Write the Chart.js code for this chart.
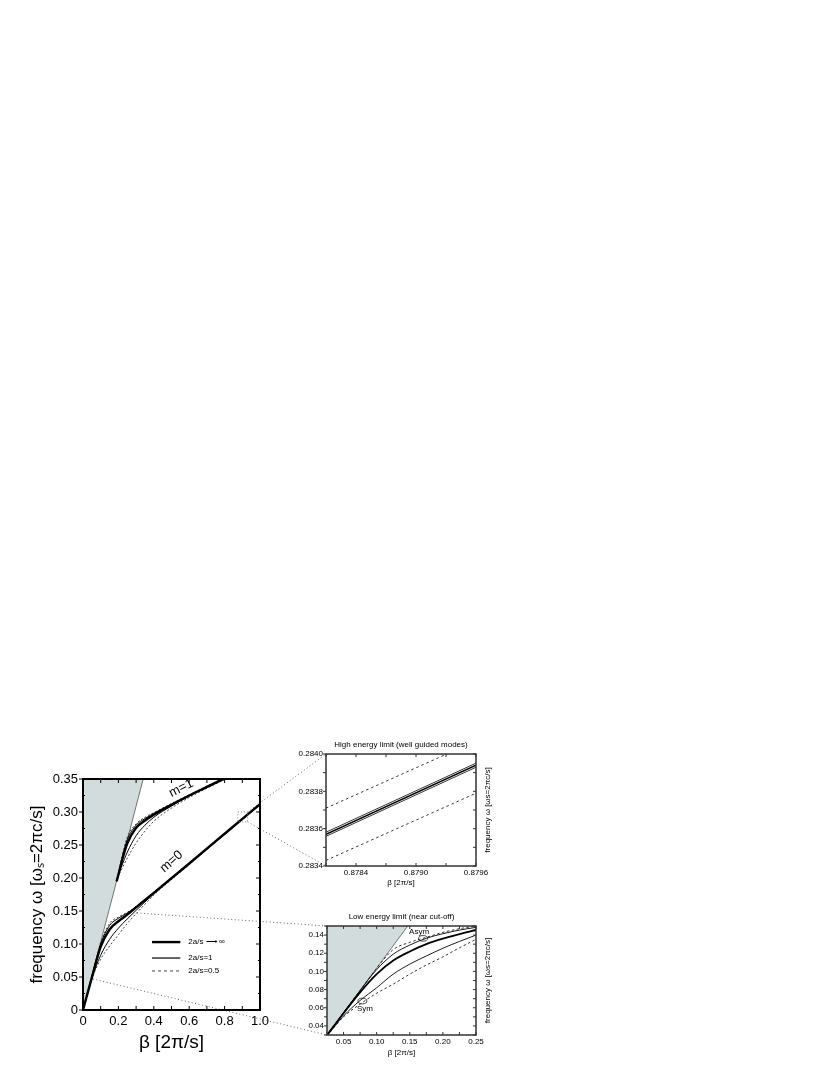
<!DOCTYPE html>
<html>
<head>
<meta charset="utf-8">
<script src="https://cdn.jsdelivr.net/npm/chart.js@4.4.0/dist/chart.umd.min.js"></script>
<style>
html, body { margin: 0; padding: 0; background: #fff; width: 830px; height: 1075px; overflow: hidden; }
canvas { position: absolute; }
</style>
</head>
<body>
<canvas id="overlay" width="830" height="1075" style="left:0;top:0"></canvas>
<canvas id="main" width="280" height="300" style="left:0;top:760px"></canvas>
<canvas id="hi" width="210" height="162" style="left:290px;top:730px"></canvas>
<canvas id="lo" width="210" height="165" style="left:290px;top:900px"></canvas>
<script>
const FONT = '"Liberation Sans", Arial, sans-serif';

// ---- main panel: dispersion, beta [2pi/s] vs omega [2pi c/s]
const lightX = [0, 0.34];
const lightY = [0, 0.35];

const betaM0 = [0, 0.05, 0.1, 0.15, 0.2, 0.25, 0.3, 0.4, 0.6, 0.8, 1.0];
const m0Inf   = [0, 0.049, 0.096, 0.122, 0.1345, 0.1445, 0.1555, 0.1775, 0.222, 0.267, 0.312];
const m0OneA  = [0, 0.050, 0.100, 0.128, 0.139, 0.147, 0.1565, 0.178, 0.2222, 0.2671, 0.3121];
const m0OneS  = [0, 0.048, 0.083, 0.107, 0.124, 0.138, 0.151, 0.176, 0.221, 0.266, 0.311];
const m0HalfA = [0, 0.050, 0.102, 0.131, 0.141, 0.148, 0.157, 0.1785, 0.2225, 0.2672, 0.3122];
const m0HalfS = [0, 0.047, 0.077, 0.097, 0.114, 0.131, 0.146, 0.174, 0.220, 0.266, 0.311];

const betaM1 = [0.19, 0.2, 0.22, 0.25, 0.3, 0.35, 0.4, 0.5, 0.6, 0.7, 0.8];
const m1Inf   = [0.195, 0.205, 0.226, 0.252, 0.276, 0.287, 0.296, 0.311, 0.325, 0.338, 0.351];
const m1OneA  = [0.195, 0.2055, 0.23, 0.258, 0.28, 0.290, 0.298, 0.312, 0.325, 0.338, 0.351];
const m1OneS  = [0.195, 0.204, 0.219, 0.239, 0.264, 0.280, 0.292, 0.309, 0.324, 0.337, 0.350];
const m1HalfA = [0.195, 0.206, 0.232, 0.262, 0.282, 0.292, 0.299, 0.313, 0.326, 0.339, 0.352];
const m1HalfS = [0.195, 0.203, 0.214, 0.230, 0.253, 0.271, 0.286, 0.306, 0.322, 0.336, 0.349];

// zoom boxes shown on the main panel
const hiBoxBeta = [0.875, 0.93];
const hiBoxOmega = [0.285, 0.30];
const loLinkBeta = [0.305, 0.056];
const loLinkOmega = [0.147, 0.047];

const legendLabels = ['2a/s \u27F6 \u221E', '2a/s=1', '2a/s=0.5'];

// ---- high energy inset
const hiBeta  = [0.8781, 0.8796];
const hiInf   = [0.28357, 0.28394];
const hiOneA  = [0.283581, 0.283951];
const hiOneS  = [0.283559, 0.283929];
const hiHalfA = [0.28371, 0.28407];
const hiHalfS = [0.28343, 0.28379];

// ---- low energy inset
const loLightX = [0.025, 0.147];
const loLightY = [0.03, 0.15];
const loBeta  = [0.025, 0.05, 0.075, 0.1, 0.125, 0.15, 0.175, 0.2, 0.225, 0.25];
const loInf   = [0.030, 0.054, 0.077, 0.097, 0.112, 0.122, 0.130, 0.136, 0.141, 0.1456];
const loOneA  = [0.030, 0.0545, 0.079, 0.102, 0.119, 0.129, 0.1365, 0.1415, 0.1455, 0.1485];
const loOneS  = [0.029, 0.051, 0.068, 0.082, 0.097, 0.108, 0.117, 0.1255, 0.133, 0.140];
const loHalfA = [0.030, 0.0546, 0.079, 0.1035, 0.124, 0.132, 0.1375, 0.143, 0.147, 0.150];
const loHalfS = [0.029, 0.050, 0.064, 0.076, 0.086, 0.097, 0.107, 0.116, 0.126, 0.1353];
const asymMark = [0.170, 0.1364];
const symMark = [0.0784, 0.0674];

const xy = (xs, ys) => xs.map((x, i) => ({ x, y: ys[i] }));

function curve(xs, ys, w, dash, color, tension) {
    return {
        data: xy(xs, ys),
        borderColor: color || '#000',
        borderWidth: w,
        borderDash: dash || [],
        pointRadius: 0,
        fill: false,
        tension: tension === undefined ? 0.4 : tension,
        cubicInterpolationMode: 'monotone',
    };
}

function lightCone(xs, ys) {
    return {
        data: xy(xs, ys),
        borderColor: '#555',
        borderWidth: 0.8,
        backgroundColor: '#d3dcdc',
        fill: 'end',
        pointRadius: 0,
        tension: 0,
    };
}

// frame + inward ticks (outward on the left)
const framePlugin = {
    id: 'frame',
    afterDatasetsDraw(chart, args, o) {
        const { ctx, chartArea: a, scales: { x, y } } = chart;
        ctx.save();
        ctx.strokeStyle = o.color || '#000';
        ctx.lineWidth = 1;
        ctx.beginPath();
        const xs = x.ticks.map(t => t.value), ys = y.ticks.map(t => t.value);
        xs.forEach((v, i) => {
            const p = x.getPixelForValue(v);
            ctx.moveTo(p, a.bottom); ctx.lineTo(p, a.bottom - o.len);
            ctx.moveTo(p, a.top); ctx.lineTo(p, a.top + o.len);
            if (o.minorX && i < xs.length - 1) {
                const m = x.getPixelForValue((v + xs[i + 1]) / 2);
                ctx.moveTo(m, a.bottom); ctx.lineTo(m, a.bottom - o.len / 2);
                ctx.moveTo(m, a.top); ctx.lineTo(m, a.top + o.len / 2);
            }
        });
        ys.forEach((v, i) => {
            const p = y.getPixelForValue(v);
            ctx.moveTo(a.left, p); ctx.lineTo(a.left - o.len, p);
            ctx.moveTo(a.right, p); ctx.lineTo(a.right - o.len, p);
            if (o.minorY && i < ys.length - 1) {
                const m = y.getPixelForValue((v + ys[i + 1]) / 2);
                ctx.moveTo(a.left, m); ctx.lineTo(a.left + o.len / 2, m);
                ctx.moveTo(a.right, m); ctx.lineTo(a.right - o.len / 2, m);
            }
        });
        ctx.stroke();
        ctx.lineWidth = o.width;
        ctx.strokeRect(a.left, a.top, a.right - a.left, a.bottom - a.top);
        ctx.restore();
    }
};

// titles of the insets (top + right, reading bottom to top)
const insetText = {
    id: 'insetText',
    afterDraw(chart, args, o) {
        if (!o.title) return;
        const { ctx, chartArea: a } = chart;
        ctx.save();
        ctx.fillStyle = '#000';
        ctx.font = '8px ' + FONT;
        ctx.textAlign = 'center';
        ctx.textBaseline = 'middle';
        ctx.fillText(o.title, (a.left + a.right) / 2, a.top - 9);
        ctx.translate(a.right + 12, (a.top + a.bottom) / 2);
        ctx.rotate(-Math.PI / 2);
        ctx.fillText('frequency \u03C9 [\u03C9s=2\u03C0c/s]', 0, 0);
        ctx.restore();
    }
};

function baseScales(xmin, xmax, xstep, xcb, ymin, ymax, ystep, ycb, o) {
    return {
        x: {
            type: 'linear', min: xmin, max: xmax,
            afterFit: s => { s.height = o.xh; },
            grid: { display: false, drawTicks: false }, border: { display: false },
            ticks: { stepSize: xstep, callback: xcb, padding: o.xpad, autoSkip: false, maxRotation: 0,
                     color: '#000', font: { size: o.tick, family: FONT } },
            title: { display: true, text: '\u03B2 [2\u03C0/s]', color: '#000',
                     font: { size: o.xtitle, family: FONT }, padding: { top: 0, bottom: o.xtpad } },
        },
        y: {
            type: 'linear', min: ymin, max: ymax,
            afterFit: s => { s.width = o.yw; },
            grid: { display: false, drawTicks: false }, border: { display: false },
            ticks: { stepSize: ystep, callback: ycb, padding: o.ypad, autoSkip: false,
                     color: '#000', font: { size: o.tick, family: FONT } },
            title: o.ytitle ? { display: true, text: o.ytitle, color: '#000',
                     font: { size: o.ytsize, family: FONT }, padding: { top: o.ytpad, bottom: 0 } } : { display: false },
        },
    };
}

const common = {
    responsive: false,
    animation: false,
    events: [],
    plugins: { legend: { display: false }, tooltip: { enabled: false } },
};

// ---------------- main chart
const mainNotes = {
    id: 'mainNotes',
    afterDatasetsDraw(chart) {
        const { ctx, chartArea: a, scales: { x, y } } = chart;
        ctx.save();
        // dotted zoom box
        ctx.strokeStyle = '#777';
        ctx.lineWidth = 1;
        ctx.setLineDash([1, 2]);
        const bx0 = x.getPixelForValue(hiBoxBeta[0]), bx1 = x.getPixelForValue(hiBoxBeta[1]);
        const by0 = y.getPixelForValue(hiBoxOmega[0]), by1 = y.getPixelForValue(hiBoxOmega[1]);
        ctx.strokeRect(bx0, by1, bx1 - bx0, by0 - by1);
        ctx.setLineDash([]);
        // mode labels
        ctx.fillStyle = '#000';
        ctx.font = '13px ' + FONT;
        ctx.textAlign = 'center';
        ctx.textBaseline = 'middle';
        [['m=1', 0.555, 0.336, -0.47], ['m=0', 0.50, 0.225, -0.72]].forEach(([t, bx, wy, r]) => {
            ctx.save();
            ctx.translate(x.getPixelForValue(bx), y.getPixelForValue(wy));
            ctx.rotate(r);
            ctx.fillText(t, 0, 0);
            ctx.restore();
        });
        // legend
        const w = a.right - a.left, h = a.bottom - a.top;
        const rows = [0.706, 0.775, 0.831];
        const styles = [[2.4, []], [1.2, []], [1, [3, 3]]];
        ctx.font = '8px ' + FONT;
        ctx.textAlign = 'left';
        legendLabels.forEach((lab, i) => {
            const yy = a.top + rows[i] * h;
            ctx.beginPath();
            ctx.lineWidth = styles[i][0];
            ctx.strokeStyle = i === 2 ? '#444' : '#000';
            ctx.setLineDash(styles[i][1]);
            ctx.moveTo(a.left + 0.39 * w, yy);
            ctx.lineTo(a.left + 0.55 * w, yy);
            ctx.stroke();
            ctx.setLineDash([]);
            ctx.fillText(lab, a.left + 0.595 * w, yy);
        });
        ctx.restore();
    }
};

const mainChart = new Chart(document.getElementById('main'), {
    type: 'line',
    data: {
        datasets: [
            curve(betaM1, m1Inf, 2.4),
            curve(betaM1, m1OneA, 1),
            curve(betaM1, m1OneS, 1),
            curve(betaM1, m1HalfA, 1, [2, 2], '#444'),
            curve(betaM1, m1HalfS, 1, [2, 2], '#444'),
            curve(betaM0, m0Inf, 2.4),
            curve(betaM0, m0OneA, 1),
            curve(betaM0, m0OneS, 1),
            curve(betaM0, m0HalfA, 1, [2, 2], '#444'),
            curve(betaM0, m0HalfS, 1, [2, 2], '#444'),
            lightCone(lightX, lightY),
        ],
    },
    options: Object.assign({}, common, {
        layout: { padding: { top: 19, right: 20, left: 0, bottom: 0 } },
        scales: baseScales(0, 1, 0.1,
            v => { const k = Math.round(v * 10); return k % 2 ? '' : (k === 0 ? '0' : (k / 10).toFixed(1)); },
            0, 0.35, 0.05,
            v => (Math.abs(v) < 1e-9 ? '0' : v.toFixed(2)),
            { xh: 50, xpad: 4, tick: 13, xtitle: 19, xtpad: 6, yw: 83, ypad: 5,
              ytitle: 'frequency \u03C9 [\u03C9\u209B=2\u03C0c/s]', ytsize: 17, ytpad: 27 }),
        plugins: Object.assign({}, common.plugins, {
            frame: { width: 2, len: 4, minorY: true },
        }),
    }),
    plugins: [framePlugin, mainNotes],
});

// ---------------- high energy inset
const hiChart = new Chart(document.getElementById('hi'), {
    type: 'line',
    data: {
        datasets: [
            curve(hiBeta, hiInf, 1.6, [], '#000', 0),
            curve(hiBeta, hiOneA, 0.8, [], '#000', 0),
            curve(hiBeta, hiOneS, 0.8, [], '#000', 0),
            curve(hiBeta, hiHalfA, 1, [2.5, 3], '#333', 0),
            curve(hiBeta, hiHalfS, 1, [2.5, 3], '#333', 0),
        ],
    },
    options: Object.assign({}, common, {
        layout: { padding: { top: 24, right: 24, left: 0, bottom: 0 } },
        scales: baseScales(0.8781, 0.8796, 0.0003,
            v => (Math.round(v * 1e4) % 6 === 0 ? v.toFixed(4) : ''),
            0.2834, 0.2840, 0.0001,
            v => (Math.round(v * 1e4) % 2 === 0 ? v.toFixed(4) : ''),
            { xh: 26, xpad: 2, tick: 8, xtitle: 8, xtpad: 4, yw: 36, ypad: 3 }),
        plugins: Object.assign({}, common.plugins, {
            frame: { width: 1.5, len: 3, color: '#333' },
            insetText: { title: 'High energy limit (well guided modes)' },
        }),
    }),
    plugins: [framePlugin, insetText],
});

// ---------------- low energy inset
const loNotes = {
    id: 'loNotes',
    afterDatasetsDraw(chart) {
        const { ctx, scales: { x, y } } = chart;
        ctx.save();
        ctx.strokeStyle = '#000';
        ctx.lineWidth = 0.7;
        [asymMark, symMark].forEach(m => {
            ctx.beginPath();
            ctx.ellipse(x.getPixelForValue(m[0]), y.getPixelForValue(m[1]), 4.5, 2.8, 0, 0, 2 * Math.PI);
            ctx.stroke();
        });
        ctx.fillStyle = '#000';
        ctx.font = '8px ' + FONT;
        ctx.textAlign = 'center';
        ctx.textBaseline = 'middle';
        ctx.fillText('Asym', x.getPixelForValue(0.164), y.getPixelForValue(0.1438));
        ctx.fillText('Sym', x.getPixelForValue(0.0824), y.getPixelForValue(0.0583));
        ctx.restore();
    }
};

const loChart = new Chart(document.getElementById('lo'), {
    type: 'line',
    data: {
        datasets: [
            curve(loBeta, loInf, 1.8),
            curve(loBeta, loOneA, 0.9),
            curve(loBeta, loOneS, 0.9),
            curve(loBeta, loHalfA, 1, [2.5, 2.5], '#333'),
            curve(loBeta, loHalfS, 1, [2.5, 2.5], '#333'),
            lightCone(loLightX, loLightY),
        ],
    },
    options: Object.assign({}, common, {
        layout: { padding: { top: 26, right: 24, left: 0, bottom: 0 } },
        scales: baseScales(0.025, 0.25, 0.025,
            v => (Math.round(v * 1000) % 50 === 0 ? v.toFixed(2) : ''),
            0.03, 0.15, 0.01,
            v => (Math.round(v * 100) % 2 === 0 ? v.toFixed(2) : ''),
            { xh: 30, xpad: 2, tick: 8, xtitle: 8, xtpad: 7, yw: 37, ypad: 3 }),
        plugins: Object.assign({}, common.plugins, {
            frame: { width: 1.5, len: 3, color: '#333' },
            insetText: { title: 'Low energy limit (near cut-off)' },
        }),
    }),
    plugins: [framePlugin, insetText, loNotes],
});

// ---------------- dotted connectors between panels
const ov = document.getElementById('overlay').getContext('2d');
const mainOff = [0, 760], hiOff = [290, 730], loOff = [290, 900];
const mainPt = (b, w) => [mainOff[0] + mainChart.scales.x.getPixelForValue(b), mainOff[1] + mainChart.scales.y.getPixelForValue(w)];
const links = [
    [mainPt(hiBoxBeta[1], hiBoxOmega[1]), [hiOff[0] + hiChart.chartArea.left, hiOff[1] + hiChart.chartArea.top]],
    [mainPt(hiBoxBeta[1], hiBoxOmega[0]), [hiOff[0] + hiChart.chartArea.left, hiOff[1] + hiChart.chartArea.bottom]],
    [mainPt(loLinkBeta[0], loLinkOmega[0]), [loOff[0] + loChart.chartArea.left, loOff[1] + loChart.chartArea.top]],
    [mainPt(loLinkBeta[1], loLinkOmega[1]), [loOff[0] + loChart.chartArea.left, loOff[1] + loChart.chartArea.bottom]],
];
ov.strokeStyle = '#666';
ov.lineWidth = 1;
ov.setLineDash([1, 2.5]);
links.forEach(([p, q]) => {
    ov.beginPath();
    ov.moveTo(p[0], p[1]);
    ov.lineTo(q[0], q[1]);
    ov.stroke();
});
</script>
</body>
</html>
